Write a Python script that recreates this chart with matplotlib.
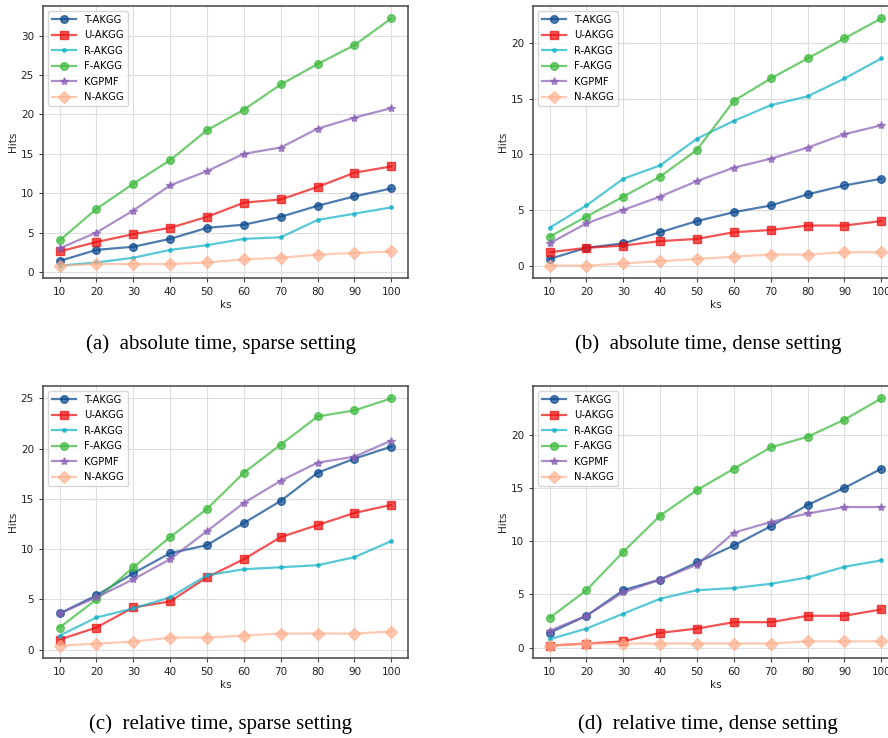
import matplotlib
matplotlib.use("Agg")
import matplotlib.pyplot as plt

# x values (ks)
ks = [10, 20, 30, 40, 50, 60, 70, 80, 90, 100]
methods = ['T-AKGG', 'U-AKGG', 'R-AKGG', 'F-AKGG', 'KGPMF', 'N-AKGG']

# (a) absolute time, sparse setting
a_t = [1.4, 2.8, 3.2, 4.2, 5.6, 6.0, 7.0, 8.4, 9.6, 10.6]
a_u = [2.6, 3.8, 4.8, 5.6, 7.0, 8.8, 9.2, 10.8, 12.6, 13.4]
a_r = [0.8, 1.2, 1.8, 2.8, 3.4, 4.2, 4.4, 6.6, 7.4, 8.2]
a_f = [4.0, 8.0, 11.2, 14.2, 18.0, 20.6, 23.8, 26.4, 28.8, 32.2]
a_k = [3.0, 5.0, 7.8, 11.0, 12.8, 15.0, 15.8, 18.2, 19.6, 20.8]
a_n = [0.8, 1.0, 1.0, 1.0, 1.2, 1.6, 1.8, 2.2, 2.4, 2.6]

# (b) absolute time, dense setting
b_t = [0.6, 1.6, 2.0, 3.0, 4.0, 4.8, 5.4, 6.4, 7.2, 7.8]
b_u = [1.2, 1.6, 1.8, 2.2, 2.4, 3.0, 3.2, 3.6, 3.6, 4.0]
b_r = [3.4, 5.4, 7.8, 9.0, 11.4, 13.0, 14.4, 15.2, 16.8, 18.6]
b_f = [2.6, 4.4, 6.2, 8.0, 10.4, 14.8, 16.8, 18.6, 20.4, 22.2]
b_k = [2.0, 3.8, 5.0, 6.2, 7.6, 8.8, 9.6, 10.6, 11.8, 12.6]
b_n = [0.0, 0.0, 0.2, 0.4, 0.6, 0.8, 1.0, 1.0, 1.2, 1.2]

# (c) relative time, sparse setting
c_t = [3.6, 5.4, 7.6, 9.6, 10.4, 12.6, 14.8, 17.6, 19.0, 20.2]
c_u = [1.0, 2.2, 4.2, 4.8, 7.2, 9.0, 11.2, 12.4, 13.6, 14.4]
c_r = [1.4, 3.2, 4.1, 5.2, 7.4, 8.0, 8.2, 8.4, 9.2, 10.8]
c_f = [2.2, 5.0, 8.2, 11.2, 14.0, 17.6, 20.4, 23.2, 23.8, 25.0]
c_k = [3.6, 5.2, 7.0, 9.0, 11.8, 14.6, 16.8, 18.6, 19.2, 20.8]
c_n = [0.4, 0.6, 0.8, 1.2, 1.2, 1.4, 1.6, 1.6, 1.6, 1.8]

# (d) relative time, dense setting
d_t = [1.4, 3.0, 5.4, 6.4, 8.0, 9.6, 11.4, 13.4, 15.0, 16.8]
d_u = [0.2, 0.4, 0.6, 1.4, 1.8, 2.4, 2.4, 3.0, 3.0, 3.6]
d_r = [0.8, 1.8, 3.2, 4.6, 5.4, 5.6, 6.0, 6.6, 7.6, 8.2]
d_f = [2.8, 5.4, 9.0, 12.4, 14.8, 16.8, 18.8, 19.8, 21.4, 23.4]
d_k = [1.6, 3.0, 5.2, 6.4, 7.8, 10.8, 11.8, 12.6, 13.2, 13.2]
d_n = [0.2, 0.4, 0.4, 0.4, 0.4, 0.4, 0.4, 0.6, 0.6, 0.6]

panels = [
    ([a_t, a_u, a_r, a_f, a_k, a_n], '(a)  absolute time, sparse setting'),
    ([b_t, b_u, b_r, b_f, b_k, b_n], '(b)  absolute time, dense setting'),
    ([c_t, c_u, c_r, c_f, c_k, c_n], '(c)  relative time, sparse setting'),
    ([d_t, d_u, d_r, d_f, d_k, d_n], '(d)  relative time, dense setting'),
]

colors = ['#0b4a8f', '#ee1111', '#17b3c8', '#3cba3c', '#8a5fb5', '#ffae8a']
alphas = [0.72, 0.72, 0.72, 0.72, 0.7, 0.65]
markers = ['o', 's', '.', 'o', '*', 'D']
msizes = [5.5, 5.5, 5, 5.5, 6, 6]

fig = plt.figure(figsize=(8.88, 7.38), dpi=100)

# axes boxes in figure fractions (right column runs off the page edge, as in the source)
lefts = [0.0484, 0.6002, 0.0484, 0.6002]
bottoms = [0.6233, 0.6233, 0.1084, 0.1084]
w, h = 0.411, 0.3686

for i, (series, caption) in enumerate(panels):
    ax = fig.add_axes([lefts[i], bottoms[i], w, h])
    for vals, name, c, a, m, ms in zip(series, methods, colors, alphas, markers, msizes):
        ax.plot(ks, vals, color=c, marker=m, markersize=ms, linewidth=1.6,
                alpha=a, label=name)
    ax.set_xticks(ks)
    ax.grid(True, color='#dddddd', linewidth=0.8)
    ax.set_axisbelow(True)
    for sp in ax.spines.values():
        sp.set_color('#444444')
        sp.set_linewidth(1.1)
    ax.tick_params(labelsize=7.5, length=3, color='#444444', labelcolor='#222222')
    ax.set_xlabel('ks', fontsize=7.5, color='#222222', labelpad=2)
    ax.set_ylabel('Hits', fontsize=7.5, color='#222222', labelpad=2)
    ax.legend(loc='upper left', fontsize=7.2, handlelength=2.4, labelspacing=0.55,
              borderpad=0.4, framealpha=0.8, edgecolor='#cccccc')
    cx = lefts[i] + 0.2 if i % 2 == 0 else 0.797
    cy = bottoms[i] - 0.089
    fig.text(cx, cy, caption, ha='center', va='center', fontsize=15,
             family='Liberation Serif')

fig.savefig('out.png', dpi=100)
